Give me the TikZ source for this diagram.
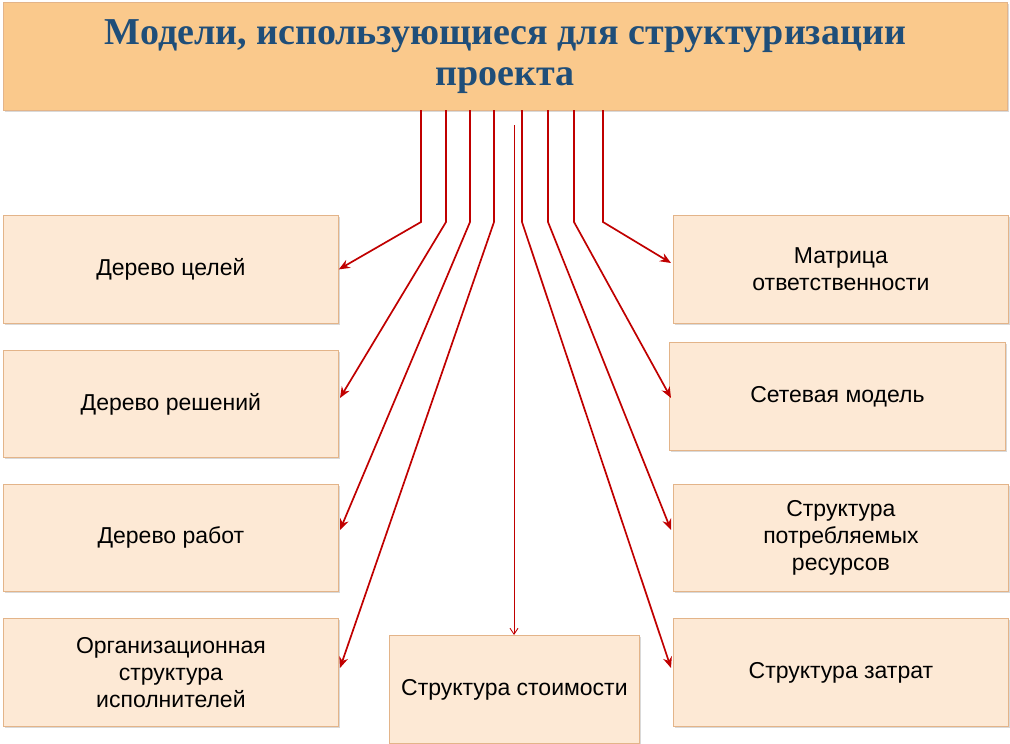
\documentclass[tikz,border=0pt]{standalone}
\usepackage{fontspec}
\setmainfont{Liberation Sans}
\newfontfamily\titlefont{Liberation Serif}
\usetikzlibrary{arrows.meta,shadows}
\definecolor{boxfill}{HTML}{FDE9D5}
\definecolor{boxline}{HTML}{E3B489}
\definecolor{titlefill}{HTML}{FAC98C}
\definecolor{titletext}{HTML}{1F4E79}
\definecolor{arr}{HTML}{C00000}
\begin{document}
\begin{tikzpicture}[x=1pt,y=-1pt,
  box/.style={draw=boxline,fill=boxfill,line width=0.8pt,minimum width=#1,align=center,font=\fontsize{23}{27}\selectfont,drop shadow={shadow xshift=2pt,shadow yshift=-2pt,opacity=0.3}},
  box/.default=335pt,
  link/.style={draw=arr,line width=1.7pt,-{Stealth[length=11pt,width=9pt]}}]
\useasboundingbox (0,0) rectangle (1010,744);
\node[draw=boxline,fill=titlefill,line width=0.8pt,minimum width=1004pt,minimum height=108pt,inner sep=0pt,anchor=north west,align=center,text=titletext,font=\titlefont\bfseries\fontsize{38}{41}\selectfont,drop shadow={shadow xshift=2pt,shadow yshift=-2pt,opacity=0.3}] (title) at (3,2) {Модели, использующиеся для структуризации\\проекта};
\node[box,minimum height=108pt,anchor=north west] (b1) at (3,215) {Дерево целей};
\node[box,minimum height=107pt,anchor=north west] (b2) at (3,350) {Дерево решений};
\node[box,minimum height=107pt,anchor=north west] (b3) at (3,484) {Дерево работ};
\node[box,minimum height=108pt,anchor=north west] (b4) at (3,618) {Организационная\\структура\\исполнителей};
\node[box=250pt,minimum height=108pt,anchor=north west] (c) at (389,635) {Структура стоимости};
\node[box,minimum height=108pt,anchor=north west] (r1) at (673,215) {Матрица\\ответственности};
\node[box=336pt,minimum height=108pt,anchor=north west] (r2) at (669,342) {Сетевая модель};
\node[box,minimum height=107pt,anchor=north west] (r3) at (673,484) {Структура\\потребляемых\\ресурсов};
\node[box,minimum height=108pt,anchor=north west] (r4) at (673,618) {Структура затрат};
\coordinate (s1) at (421,110); \coordinate (s2) at (446,110); \coordinate (s3) at (470,110); \coordinate (s4) at (494,110);
\coordinate (s6) at (522,110); \coordinate (s7) at (548,110); \coordinate (s8) at (574,110); \coordinate (s9) at (603,110);
\coordinate (s5) at (514,125);
\draw[link] (s1) -- (421,222) -- (b1.east);
\draw[link] (s2) -- (446,222) -- (340,398);
\draw[link] (s3) -- (470,222) -- (340,530);
\draw[link] (s4) -- (494,222) -- (340,668);
\draw[draw=arr,line width=0.9pt,-{Straight Barb[length=6pt,width=8pt]}] (s5) -- (c.north -| s5);
\draw[link] (s6) -- (522,222) -- (671,668);
\draw[link] (s7) -- (548,222) -- (671,530);
\draw[link] (s8) -- (574,222) -- (671,398);
\draw[link] (s9) -- (603,222) -- (671,263);
\end{tikzpicture}
\end{document}
